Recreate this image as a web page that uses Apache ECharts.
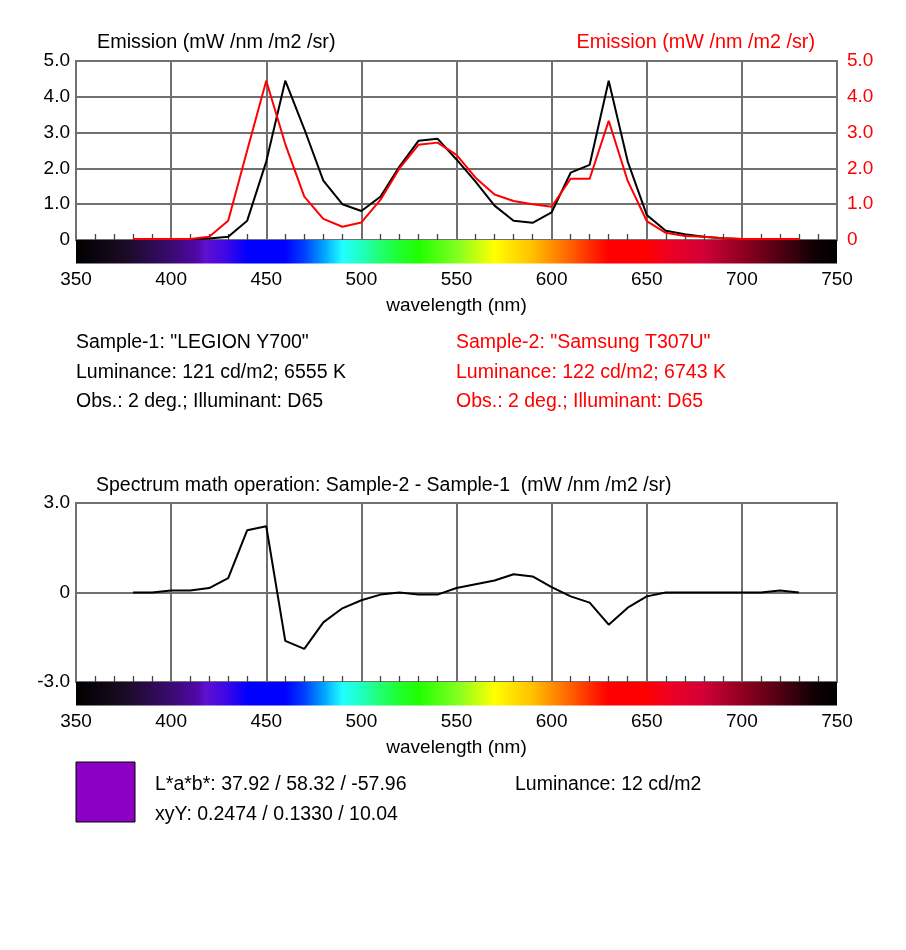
<!DOCTYPE html>
<html>
<head>
<meta charset="utf-8">
<script src="https://cdn.jsdelivr.net/npm/echarts@6/dist/echarts.min.js"></script>
<style>
html,body{margin:0;padding:0;background:#fff;}
#chart{width:906px;height:950px;}
</style>
</head>
<body>
<div id="chart"></div>
<script>
var wavelengths = [380,390,400,410,420,430,440,450,460,470,480,490,500,510,520,530,540,550,560,570,580,590,600,610,620,630,640,650,660,670,680,690,700,710,720,730];
var sample1 = [0.03,0.03,0.03,0.02,0.04,0.09,0.54,2.19,4.45,3.10,1.66,1.00,0.81,1.21,2.05,2.77,2.83,2.25,1.63,0.96,0.54,0.48,0.77,1.88,2.10,4.45,2.19,0.70,0.26,0.16,0.09,0.05,0.03,0.02,0.02,0.02];
var sample2 = [0.03,0.03,0.03,0.03,0.09,0.54,2.51,4.45,2.68,1.21,0.59,0.37,0.49,1.12,2.00,2.66,2.72,2.38,1.74,1.27,1.09,1.00,0.93,1.71,1.71,3.33,1.65,0.53,0.20,0.11,0.09,0.05,0.03,0.03,0.03,0.03];
var difference = [0,0,0.07,0.07,0.15,0.48,2.09,2.22,-1.62,-1.89,-1.00,-0.53,-0.26,-0.07,0,-0.07,-0.07,0.15,0.28,0.40,0.61,0.54,0.18,-0.13,-0.34,-1.08,-0.51,-0.13,0,0,0,0,0,0,0.07,0];
var spectrumStops = [
  [0,'#000000'],[0.0625,'#1a0a22'],[0.125,'#3a0a70'],[0.16,'#5008a8'],[0.17,'#6010d0'],[0.2,'#3a06e8'],[0.225,'#0000ff'],[0.275,'#0000ff'],[0.3,'#0040ff'],[0.325,'#00a0ff'],[0.35,'#20ffff'],[0.375,'#20ffc0'],[0.4,'#20ff70'],[0.425,'#20ff30'],[0.45,'#20ff00'],[0.5,'#80ff20'],[0.55,'#ffff00'],[0.6,'#ffc000'],[0.65,'#ff6000'],[0.69,'#ff1000'],[0.7,'#ff0000'],[0.75,'#ff0000'],[0.775,'#f00020'],[0.825,'#d00038'],[0.875,'#900020'],[0.925,'#500012'],[0.97,'#100004'],[1,'#000000']
];

var FONT = '"Liberation Sans", Arial, Helvetica, sans-serif';
var GRID_COLOR = '#707070';

function pair(xs, ys){ return xs.map(function(x,i){ return [x, ys[i]]; }); }
function yFmt(v){ return v === 0 ? '0' : v.toFixed(1); }

function makeXAxis(gridIndex){
  return {
    type:'value', gridIndex:gridIndex, min:350, max:750, interval:50,
    name:'wavelength (nm)', nameLocation:'middle', nameGap:56,
    nameTextStyle:{color:'#000', fontSize:19, fontFamily:FONT},
    axisLine:{show:false, onZero:false},
    axisTick:{show:true, inside:true, length:6, lineStyle:{color:GRID_COLOR, width:2}},
    minorTick:{show:true, splitNumber:5, length:6, lineStyle:{color:'#444', width:1.3}},
    axisLabel:{color:'#000', fontSize:19, fontFamily:FONT, margin:30},
    splitLine:{show:true, lineStyle:{color:GRID_COLOR, width:2}}
  };
}

function spectrumSeries(xi, yi, ymin){
  return {
    type:'custom', xAxisIndex:xi, yAxisIndex:yi, silent:true, z:10, clip:false,
    data:[[350, 750, ymin]],
    renderItem:function(params, api){
      var p0 = api.coord([api.value(0), api.value(2)]);
      var p1 = api.coord([api.value(1), api.value(2)]);
      return {
        type:'rect',
        shape:{x:p0[0], y:p0[1], width:p1[0]-p0[0], height:23.5},
        style:{fill:new echarts.graphic.LinearGradient(0,0,1,0, spectrumStops.map(function(s){return {offset:s[0], color:s[1]};}))}
      };
    }
  };
}

var chart = echarts.init(document.getElementById('chart'), null, {renderer:'canvas'});
var option = {
  animation:false,
  backgroundColor:'#fff',
  grid:[
    {left:76, right:69, top:61, height:179, show:true, borderColor:GRID_COLOR, borderWidth:2, backgroundColor:'transparent'},
    {left:76, right:69, top:503, height:179, show:true, borderColor:GRID_COLOR, borderWidth:2, backgroundColor:'transparent'}
  ],
  xAxis:[makeXAxis(0), makeXAxis(1)],
  yAxis:[
    {type:'value', gridIndex:0, min:0, max:5, interval:1, position:'left',
     axisLine:{show:false}, axisTick:{show:false},
     axisLabel:{color:'#000', fontSize:19, fontFamily:FONT, margin:6, formatter:yFmt},
     splitLine:{show:true, lineStyle:{color:GRID_COLOR, width:2}}},
    {type:'value', gridIndex:0, min:0, max:5, interval:1, position:'right',
     axisLine:{show:false}, axisTick:{show:false},
     axisLabel:{color:'#ff0000', fontSize:19, fontFamily:FONT, margin:10, formatter:yFmt},
     splitLine:{show:false}},
    {type:'value', gridIndex:1, min:-3, max:3, interval:3, position:'left',
     axisLine:{show:false}, axisTick:{show:false},
     axisLabel:{color:'#000', fontSize:19, fontFamily:FONT, margin:6, formatter:yFmt},
     splitLine:{show:true, lineStyle:{color:GRID_COLOR, width:2}}}
  ],
  series:[
    {type:'line', name:'Sample-1', xAxisIndex:0, yAxisIndex:0, data:pair(wavelengths, sample1),
     showSymbol:false, lineStyle:{color:'#000', width:2}, z:3},
    {type:'line', name:'Sample-2', xAxisIndex:0, yAxisIndex:1, data:pair(wavelengths, sample2),
     showSymbol:false, lineStyle:{color:'#ff0000', width:2}, z:4},
    {type:'line', name:'Sample-2 - Sample-1', xAxisIndex:1, yAxisIndex:2, data:pair(wavelengths, difference),
     showSymbol:false, lineStyle:{color:'#000', width:2}, z:3},
    spectrumSeries(0, 0, 0),
    spectrumSeries(1, 2, -3)
  ],
  graphic:[
    {type:'text', x:97, y:43, style:{text:'Emission (mW /nm /m2 /sr)', fill:'#000', font:'19.8px '+FONT, align:'left', verticalAlign:'middle'}},
    {type:'text', x:815, y:43, style:{text:'Emission (mW /nm /m2 /sr)', fill:'#ff0000', font:'19.8px '+FONT, align:'right', verticalAlign:'middle'}},
    {type:'text', x:76, y:343, style:{text:'Sample-1: "LEGION Y700"', fill:'#000', font:'19.5px '+FONT, align:'left', verticalAlign:'middle'}},
    {type:'text', x:76, y:373, style:{text:'Luminance: 121 cd/m2; 6555 K', fill:'#000', font:'19.5px '+FONT, align:'left', verticalAlign:'middle'}},
    {type:'text', x:76, y:402, style:{text:'Obs.: 2 deg.; Illuminant: D65', fill:'#000', font:'19.5px '+FONT, align:'left', verticalAlign:'middle'}},
    {type:'text', x:456, y:343, style:{text:'Sample-2: "Samsung T307U"', fill:'#ff0000', font:'19.5px '+FONT, align:'left', verticalAlign:'middle'}},
    {type:'text', x:456, y:373, style:{text:'Luminance: 122 cd/m2; 6743 K', fill:'#ff0000', font:'19.5px '+FONT, align:'left', verticalAlign:'middle'}},
    {type:'text', x:456, y:402, style:{text:'Obs.: 2 deg.; Illuminant: D65', fill:'#ff0000', font:'19.5px '+FONT, align:'left', verticalAlign:'middle'}},
    {type:'text', x:96, y:486, style:{text:'Spectrum math operation: Sample-2 - Sample-1  (mW /nm /m2 /sr)', fill:'#000', font:'19.5px '+FONT, align:'left', verticalAlign:'middle'}},
    {type:'rect', shape:{x:76, y:762, width:59, height:60}, style:{fill:'#8b00c2', stroke:'#000', lineWidth:1}},
    {type:'text', x:155, y:785, style:{text:'L*a*b*: 37.92 / 58.32 / -57.96', fill:'#000', font:'19.5px '+FONT, align:'left', verticalAlign:'middle'}},
    {type:'text', x:155, y:815, style:{text:'xyY: 0.2474 / 0.1330 / 10.04', fill:'#000', font:'19.5px '+FONT, align:'left', verticalAlign:'middle'}},
    {type:'text', x:515, y:785, style:{text:'Luminance: 12 cd/m2', fill:'#000', font:'19.5px '+FONT, align:'left', verticalAlign:'middle'}}
  ]
};
chart.setOption(option);
</script>
</body>
</html>
